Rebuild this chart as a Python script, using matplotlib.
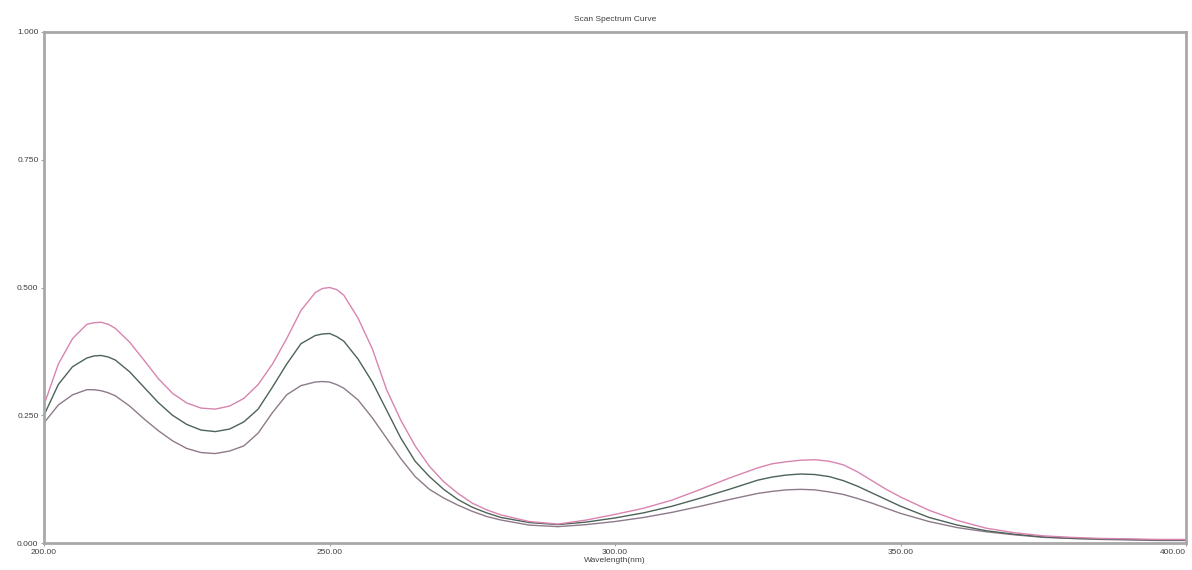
import matplotlib
matplotlib.use("Agg")
import matplotlib.pyplot as plt

# Wavelength grid (nm)
wavelength = [200, 202.5, 205, 207.5, 208.75, 210, 211.25, 212.5, 215, 217.5, 220, 222.5,
              225, 227.5, 230, 232.5, 235, 237.5, 240, 242.5, 245, 247.5, 248.75, 250,
              251.25, 252.5, 255, 257.5, 260, 262.5, 265, 267.5, 270, 272.5, 275, 277.5,
              280, 285, 290, 295, 300, 305, 310, 315, 320, 325, 327.5, 330, 332.5, 335,
              337.5, 340, 342.5, 345, 347.5, 350, 355, 360, 365, 370, 375, 380, 385, 390,
              395, 400]

abs_top = [0.27, 0.35, 0.40, 0.428, 0.431, 0.432, 0.428, 0.42, 0.393, 0.358, 0.322, 0.293,
           0.274, 0.264, 0.262, 0.268, 0.283, 0.31, 0.35, 0.40, 0.455, 0.49, 0.498, 0.50,
           0.496, 0.485, 0.44, 0.38, 0.30, 0.24, 0.19, 0.15, 0.12, 0.097, 0.078, 0.065,
           0.055, 0.042, 0.037, 0.045, 0.056, 0.068, 0.084, 0.105, 0.127, 0.147, 0.155,
           0.159, 0.162, 0.163, 0.16, 0.153, 0.139, 0.122, 0.105, 0.09, 0.064, 0.044,
           0.029, 0.02, 0.014, 0.011, 0.009, 0.008, 0.007, 0.007]

abs_mid = [0.25, 0.31, 0.345, 0.362, 0.366, 0.367, 0.364, 0.358, 0.335, 0.305, 0.275, 0.25,
           0.232, 0.221, 0.218, 0.223, 0.237, 0.262, 0.305, 0.35, 0.39, 0.406, 0.409, 0.41,
           0.404, 0.395, 0.36, 0.315, 0.26, 0.205, 0.16, 0.13, 0.105, 0.085, 0.07, 0.059,
           0.05, 0.04, 0.036, 0.041, 0.049, 0.059, 0.072, 0.088, 0.105, 0.123, 0.129,
           0.133, 0.135, 0.134, 0.13, 0.122, 0.111, 0.098, 0.085, 0.072, 0.05, 0.035,
           0.024, 0.017, 0.012, 0.009, 0.008, 0.007, 0.006, 0.006]

abs_low = [0.235, 0.27, 0.29, 0.30, 0.30, 0.298, 0.294, 0.288, 0.268, 0.243, 0.22, 0.20,
           0.185, 0.177, 0.175, 0.18, 0.19, 0.215, 0.255, 0.29, 0.308, 0.315, 0.316, 0.315,
           0.31, 0.303, 0.28, 0.245, 0.205, 0.165, 0.13, 0.105, 0.088, 0.074, 0.062, 0.052,
           0.045, 0.035, 0.032, 0.036, 0.042, 0.05, 0.06, 0.072, 0.085, 0.097, 0.101,
           0.104, 0.105, 0.104, 0.1, 0.095, 0.087, 0.078, 0.068, 0.058, 0.042, 0.03,
           0.022, 0.016, 0.011, 0.009, 0.007, 0.006, 0.005, 0.005]

x_ticks = [200, 250, 300, 350, 400]
x_tick_labels = ["200.00", "250.00", "300.00", "350.00", "400.00"]
y_ticks = [0.0, 0.25, 0.5, 0.75, 1.0]
y_tick_labels = ["0.000", "0.250", "0.500", "0.750", "1.000"]

plt.rcParams['font.family'] = ['Liberation Sans', 'DejaVu Sans']

fig = plt.figure(figsize=(11.92, 5.70), dpi=100)
ax = fig.add_axes([44 / 1192, 1 - 543 / 570, (1186 - 44) / 1192, (543 - 32) / 570])

line_kw = dict(lw=1.0, solid_joinstyle="round", solid_capstyle="round")
ax.plot(wavelength, abs_low, color="#8e7a8a", **line_kw)
ax.plot(wavelength, abs_mid, color="#4d6358", **line_kw)
ax.plot(wavelength, abs_top, color="#d884b0", **line_kw)

ax.set_xlim(200, 400)
ax.set_ylim(0, 1.0)
ax.set_xticks(x_ticks)
ax.set_xticklabels(x_tick_labels)
ax.set_yticks(y_ticks)
ax.set_yticklabels(y_tick_labels)
ax.tick_params(axis="both", labelsize=6, length=2, width=0.8, color="#a0a0a0",
               labelcolor="#404040", pad=2)
ax.get_xticklabels()[-1].set_horizontalalignment("right")

for sp in ax.spines.values():
    sp.set_color("#a8a8a8")
    sp.set_linewidth(2)

ax.set_title("Scan Spectrum Curve", fontsize=6, color="#404040", pad=8)
ax.set_xlabel("Wavelength(nm)", fontsize=6, color="#404040", labelpad=1)

fig.savefig("out.png", dpi=100, facecolor="white")
